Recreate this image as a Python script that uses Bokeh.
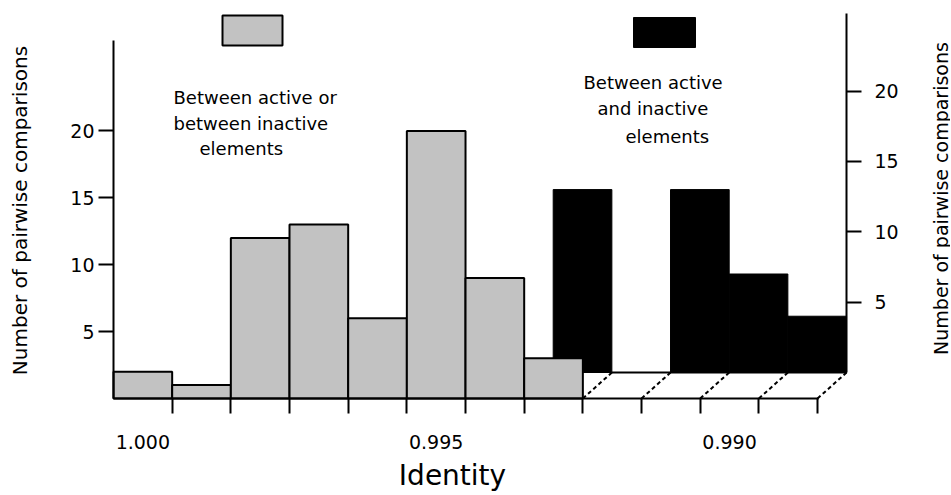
import math
from bokeh.plotting import figure
from bokeh.models import (Range1d, LinearAxis, FixedTicker, NumeralTickFormatter,
                          BoxAnnotation, Label)
from bokeh.embed import file_html
from bokeh.resources import INLINE

# ---------------- data ----------------
within_identity = [1.000, 0.999, 0.998, 0.997, 0.996, 0.995, 0.994, 0.993]
within_counts = [2, 1, 12, 13, 6, 20, 9, 3]
between_identity = [0.993, 0.991, 0.990, 0.989]
between_counts = [13, 13, 7, 4]
x_label_ticks = [1.000, 0.995, 0.990]
bin_edges = [0.9995, 0.9985, 0.9975, 0.9965, 0.9955, 0.9945,
             0.9935, 0.9925, 0.9915, 0.9905, 0.9895, 0.9885]
back_edges = [0.9925, 0.9915, 0.9905, 0.9895, 0.9885]
y_ticks = [5, 10, 15, 20]
BIN = 0.001
X_TITLE = "Identity"
Y_TITLE = "Number of pairwise comparisons"

# ---------------- geometry / style ----------------
FONT = "DejaVu Sans"
GRAY = "#c2c2c2"
CANVAS_W, CANVAS_H = 950, 494
PX_PER_BIN = 58.67
PX_PER_COUNT = 13.38
X_START = 1.0005                     # identity at the left axis
FRAME_LEFT, FRAME_BOTTOM = 113, 398  # page pixels of the (front) axes corner
BACK_DX = 29 / PX_PER_BIN * BIN      # depth shift of the back row (identity units)
BACK_DY = 26 / PX_PER_COUNT          # depth shift of the back row (count units)
RIGHT_PX_PER_COUNT = 14.07
K = PX_PER_COUNT / RIGHT_PX_PER_COUNT


def px_x(px):
    return X_START - (px - FRAME_LEFT) / PX_PER_BIN * BIN


def px_y(py):
    return (FRAME_BOTTOM - py) / PX_PER_COUNT


Y_LO, Y_HI = px_y(CANVAS_H), px_y(0)

p = figure(frame_width=CANVAS_W, frame_height=CANVAS_H,
           x_range=Range1d(px_x(0), px_x(CANVAS_W)), y_range=Range1d(Y_LO, Y_HI),
           output_backend="svg", toolbar_location=None,
           min_border_left=0, min_border_right=0,
           min_border_top=0, min_border_bottom=0)
p.extra_y_ranges = {"right": Range1d((Y_LO - BACK_DY) * K, (Y_HI - BACK_DY) * K)}
p.xgrid.visible = False
p.ygrid.visible = False
p.outline_line_color = None
p.background_fill_color = "white"
p.border_fill_color = "white"

# back row: dashed depth lines, back baseline, black bars
p.segment(x0=back_edges, y0=[0] * len(back_edges),
          x1=[e - BACK_DX for e in back_edges], y1=[BACK_DY] * len(back_edges),
          line_color="black", line_width=2, line_dash="4 3")
p.segment(x0=[back_edges[0] - BACK_DX], y0=[0],
          x1=[back_edges[-1] - BACK_DX], y1=[0],
          y_range_name="right", line_color="black", line_width=2)
p.vbar(x=[b - BACK_DX for b in between_identity], width=BIN,
       top=between_counts, bottom=0, y_range_name="right",
       fill_color="black", line_color="black", line_width=1)

# front row: gray bars
p.vbar(x=within_identity, width=BIN, top=within_counts, bottom=0,
       fill_color=GRAY, line_color="black", line_width=2)

# ---------------- axes ----------------
xa = p.xaxis[0]
xa.fixed_location = 0
xa.ticker = FixedTicker(ticks=x_label_ticks, minor_ticks=bin_edges)
xa.formatter = NumeralTickFormatter(format="0.000")
xa.bounds = (bin_edges[-1] - 0.00001, X_START)
xa.major_tick_in = 0
xa.major_tick_out = 0
xa.major_tick_line_color = None
xa.minor_tick_in = 0
xa.minor_tick_out = 15
xa.minor_tick_line_width = 2
xa.minor_tick_line_color = "black"
xa.axis_line_width = 2
xa.axis_line_color = "black"
xa.major_label_standoff = 21
xa.major_label_text_font = FONT
xa.major_label_text_font_size = "19px"
xa.major_label_text_color = "black"

ya = p.yaxis[0]
ya.fixed_location = X_START
ya.ticker = FixedTicker(ticks=y_ticks)
ya.bounds = (0, px_y(40))
ya.major_tick_in = 0
ya.major_tick_out = 15
ya.major_tick_line_width = 2
ya.minor_tick_line_color = None
ya.axis_line_width = 2
ya.major_label_standoff = 4
ya.major_label_text_font = FONT
ya.major_label_text_font_size = "19px"
ya.major_label_text_color = "black"

# right (back-row) axis, standing at the back corner of the depth plane
ra = LinearAxis(y_range_name="right", ticker=FixedTicker(ticks=y_ticks),
                bounds=(0, (px_y(13) - BACK_DY) * K),
                fixed_location=back_edges[-1] - BACK_DX)
ra.major_tick_in = 0
ra.major_tick_out = 15
ra.major_tick_line_width = 2
ra.minor_tick_line_color = None
ra.axis_line_width = 2
ra.major_label_standoff = 13
ra.major_label_text_font = FONT
ra.major_label_text_font_size = "19px"
ra.major_label_text_color = "black"
p.add_layout(ra, "right")

# axis titles
p.add_layout(Label(x=px_x(452), y=px_y(475), text=X_TITLE,
                   text_align="center", text_baseline="middle",
                   text_font=FONT, text_font_size="28px", text_color="black"))
p.add_layout(Label(x=px_x(19), y=px_y(210), text=Y_TITLE,
                   angle=math.pi / 2, text_align="center", text_baseline="middle",
                   text_font=FONT, text_font_size="20px", text_color="black"))
p.add_layout(Label(x=px_x(940), y=px_y(198), text=Y_TITLE,
                   angle=math.pi / 2, text_align="center", text_baseline="middle",
                   text_font=FONT, text_font_size="19px", text_color="black"))

# ---------------- legend (swatches + texts) ----------------
p.add_layout(BoxAnnotation(left=px_x(222), right=px_x(282), top=px_y(15), bottom=px_y(45),
                           fill_color=GRAY, fill_alpha=1, line_color="black", line_width=2,
                           line_alpha=1))
p.add_layout(BoxAnnotation(left=px_x(633), right=px_x(695), top=px_y(17), bottom=px_y(47),
                           fill_color="black", fill_alpha=1, line_color="black", line_width=1,
                           line_alpha=1))

legend_lines = [
    ("Between active or", 173, 97),
    ("between inactive", 173, 123),
    ("elements", 199, 148),
    ("Between active", 583, 82),
    ("and inactive", 597, 108),
    ("elements", 625, 136),
]
for txt, lx, ly in legend_lines:
    p.add_layout(Label(x=px_x(lx), y=px_y(ly), text=txt, text_align="left",
                       text_baseline="middle", text_font=FONT, text_font_size="18px",
                       text_color="black"))

open("out.html", "w").write(file_html(p, INLINE))
